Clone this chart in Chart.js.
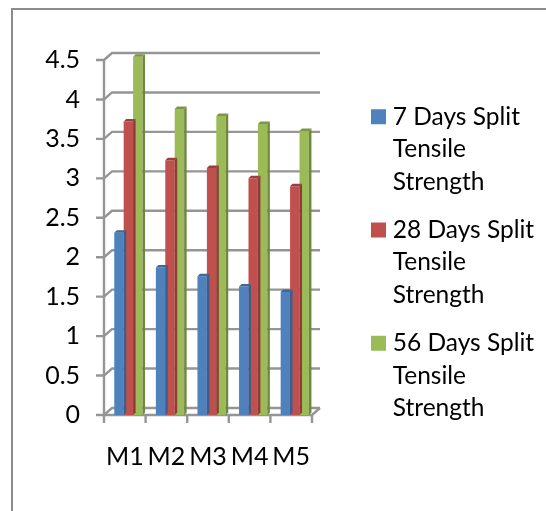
<!DOCTYPE html>
<html>
<head>
<meta charset="utf-8">
<script src="https://cdn.jsdelivr.net/npm/chart.js@4"></script>
<style>
  html, body { margin:0; padding:0; background:#fff; }
  #wrap { position:absolute; left:0; top:0; width:546px; height:511px; }
</style>
</head>
<body>
<div id="wrap"><canvas id="c" width="546" height="511"></canvas></div>
<script>
const categories = ['M1','M2','M3','M4','M5'];
const days7  = [2.31,1.87,1.76,1.63,1.56];
const days28 = [3.72,3.23,3.13,3.0,2.9];
const days56 = [4.54,3.88,3.79,3.69,3.6];
const seriesNames = [
  ['7 Days Split','Tensile','Strength'],
  ['28 Days Split','Tensile','Strength'],
  ['56 Days Split','Tensile','Strength']
];
const seriesColors = ['#4f81bd','#c0504d','#9bbb59'];
const sideColors   = ['#3a5f8c','#8e3b39','#6f8741'];
const capColors    = ['#3f6797','#9a403e','#7c9647'];

// 3D look: back wall, floor and the bar side faces, all taken from the scales
const DEPTH_X = 8, DEPTH_Y = 7, SHIFT = 3.6;
const wall3d = {
  id: 'wall3d',
  beforeDatasetsDraw(chart) {
    const { ctx, scales:{ x, y } } = chart;
    const left = x.left - SHIFT, right = x.right - SHIFT;
    ctx.save();
    ctx.strokeStyle = '#959595';
    ctx.lineWidth = 2.4;
    y.ticks.forEach(t => {
      const py = y.getPixelForValue(t.value);
      ctx.beginPath();
      ctx.moveTo(left - 8, py);
      ctx.lineTo(left, py);
      ctx.lineTo(left + DEPTH_X, py - DEPTH_Y);
      ctx.lineTo(right + DEPTH_X, py - DEPTH_Y);
      ctx.stroke();
    });
    const y0 = y.getPixelForValue(0), yTop = y.getPixelForValue(4.5);
    ctx.beginPath();
    ctx.moveTo(left, yTop); ctx.lineTo(left, y0); ctx.lineTo(right, y0);
    ctx.lineTo(right + DEPTH_X, y0 - DEPTH_Y);
    ctx.stroke();
    for (let i = 0; i <= categories.length; i++) {
      const px = left + (right - left) * i / categories.length;
      ctx.beginPath(); ctx.moveTo(px, y0); ctx.lineTo(px, y0 + 8); ctx.stroke();
    }
    ctx.restore();
  },
  afterDatasetsDraw(chart) {
    const { ctx } = chart;
    const dx = 2.5, dy = 2.5;
    chart.data.datasets.forEach((ds, i) => {
      chart.getDatasetMeta(i).data.forEach(bar => {
        const l = bar.x - bar.width / 2, r = bar.x + bar.width / 2;
        ctx.fillStyle = capColors[i];
        ctx.beginPath();
        ctx.moveTo(l, bar.y); ctx.lineTo(l + dx, bar.y - dy);
        ctx.lineTo(r + dx, bar.y - dy); ctx.lineTo(r, bar.y);
        ctx.fill();
        ctx.fillStyle = sideColors[i];
        ctx.beginPath();
        ctx.moveTo(r, bar.y); ctx.lineTo(r + dx, bar.y - dy);
        ctx.lineTo(r + dx, bar.base - dy); ctx.lineTo(r, bar.base);
        ctx.fill();
      });
    });
  }
};

const frame = {
  id: 'frame',
  beforeDraw(chart) {
    const { ctx } = chart;
    ctx.save();
    ctx.strokeStyle = '#8c8c8c';
    ctx.lineWidth = 2;
    ctx.beginPath();
    ctx.moveTo(12, 511); ctx.lineTo(12, 9); ctx.lineTo(546, 9);
    ctx.stroke();
    ctx.restore();
  }
};

// legend keeps the plot width fixed and sits away from the plot, like the original
const LEGEND_PAD = 15.5;
const legendPlace = {
  id: 'legendPlace',
  afterInit(chart) {
    const fit = chart.legend.fit;
    chart.legend.fit = function () { fit.call(this); this.width = 546 - 315.6; };
  },
  afterLayout(chart) {
    const lg = chart.legend;
    lg.left = 371 + 5.5 - LEGEND_PAD; lg.right = 546;
    lg.top = 104.5 - LEGEND_PAD; lg.bottom = 511;
  }
};

const FONT = 'Lato, Carlito, "Open Sans", sans-serif';
const makeSet = (label, data, i) => ({
  label, data, backgroundColor: seriesColors[i], borderWidth: 0,
  barPercentage: 1, categoryPercentage: 0.68, clip: false
});

new Chart(document.getElementById('c').getContext('2d'), {
  type: 'bar',
  data: {
    labels: categories,
    datasets: [
      makeSet(seriesNames[0], days7, 0),
      makeSet(seriesNames[1], days28, 1),
      makeSet(seriesNames[2], days56, 2)
    ]
  },
  options: {
    responsive: false,
    animation: false,
    layout: { padding: { top: 60, left: 0, right: 0, bottom: 20 } },
    scales: {
      x: {
        grid: { display:false }, border: { display:false },
        ticks: { font:{ size:25, family:FONT }, color:'#000', labelOffset:-3.6, padding:19, maxRotation:0, autoSkip:false }
      },
      y: {
        min: 0, max: 4.5,
        grid: { display:false }, border: { display:false },
        afterFit(s) { s.width = 107.6; },
        ticks: { stepSize:0.5, font:{ size:25, family:FONT }, color:'#000', padding:19.5,
                 callback: v => String(v) }
      }
    },
    plugins: {
      tooltip: { enabled:false },
      legend: {
        position: 'right',
        align: 'start',
        labels: {
          font:{ size:24.5, family:FONT, lineHeight:1.33 }, color:'#000',
          // small box plus a thick same-colour stroke: 15px swatch with the text close to it
          boxWidth:4, boxHeight:4, padding:LEGEND_PAD,
          generateLabels: chart => Chart.defaults.plugins.legend.labels.generateLabels(chart)
            .map(it => ({ ...it, strokeStyle: it.fillStyle, lineWidth: 11 }))
        }
      }
    }
  },
  plugins: [frame, wall3d, legendPlace]
});
</script>
</body>
</html>
